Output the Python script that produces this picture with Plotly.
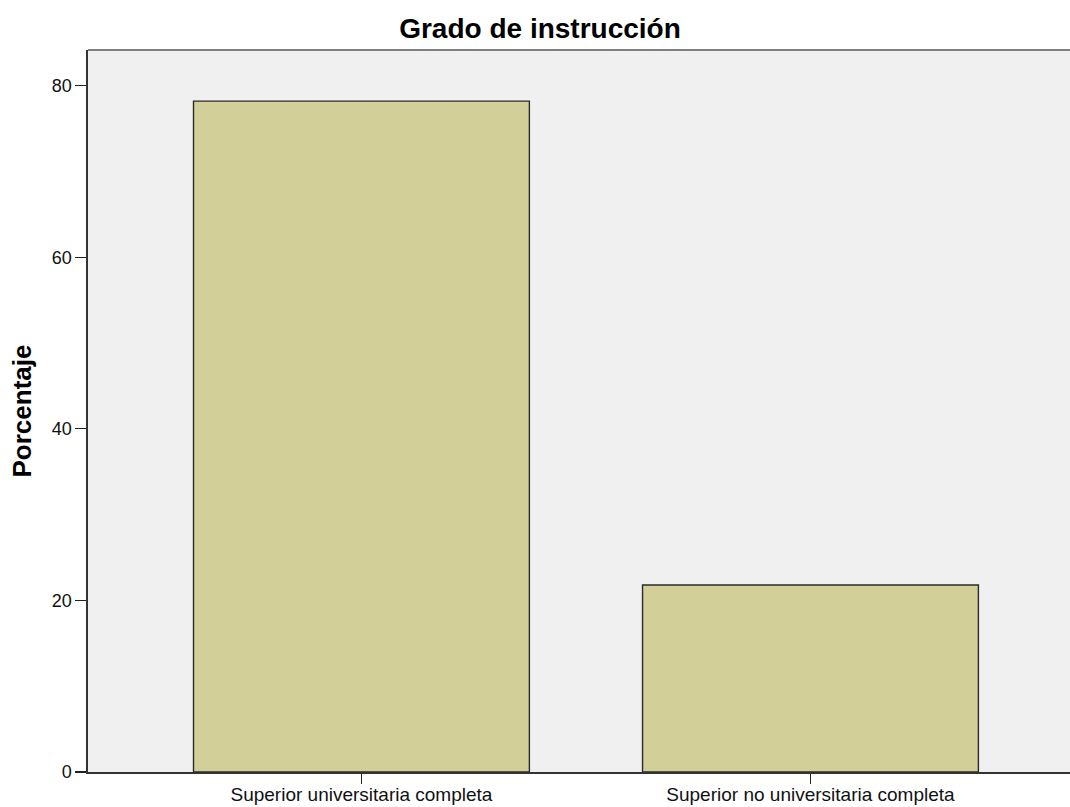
import plotly.graph_objects as go

categories = ["Superior universitaria completa", "Superior no universitaria completa"]
percentages = [78.2, 21.8]
y_ticks = [0, 20, 40, 60, 80]
title_text = "Grado de instrucción"
y_title = "Porcentaje"

W, H = 1070, 807

fig = go.Figure()
fig.add_trace(go.Bar(
    x=[0, 1],
    y=percentages,
    width=0.748,
    marker=dict(color="#D3CF99", line=dict(color="#2a2a2a", width=1.4)),
    hoverinfo="skip",
))

fig.update_layout(
    width=W, height=H,
    margin=dict(l=88, r=0, t=50, b=35, autoexpand=False),
    paper_bgcolor="white",
    plot_bgcolor="#F0F0F0",
    font=dict(family="Liberation Sans, Arial, sans-serif", color="#111"),
    showlegend=False,
    bargap=0,
    title=dict(text="<b>" + title_text + "</b>", x=540 / W, xref="container",
               xanchor="center", y=1 - 28 / H, yanchor="middle",
               font=dict(size=28, color="#000")),
)

fig.update_xaxes(
    range=[-0.609, 1.578],
    tickmode="array", tickvals=[0, 1], ticktext=categories,
    ticks="outside", ticklen=10, tickwidth=1.3, tickcolor="#222",
    tickfont=dict(size=19, color="#111"), ticklabelstandoff=-5,
    showline=True, linecolor="#333", linewidth=1.6,
    showgrid=False, zeroline=False, fixedrange=True,
)
fig.update_yaxes(
    range=[0, 84.16],
    tickmode="array", tickvals=y_ticks, ticktext=[str(v) for v in y_ticks],
    ticks="outside", ticklen=11, tickwidth=1.3, tickcolor="#222",
    tickfont=dict(size=18, color="#111"),
    showline=True, linecolor="#333", linewidth=1.6,
    showgrid=False, zeroline=False, fixedrange=True,
    title=dict(text="<b>" + y_title + "</b>", font=dict(size=26, color="#000"), standoff=12),
)

# grey top border of the plot frame
fig.add_shape(type="line", xref="paper", yref="paper", x0=0, x1=1, y0=1, y1=1,
              line=dict(color="#808080", width=2))

fig.write_html(
    "out.html",
    config={"displayModeBar": False, "staticPlot": True},
    post_script="document.body.style.margin='0';document.body.style.overflow='hidden';",
)
